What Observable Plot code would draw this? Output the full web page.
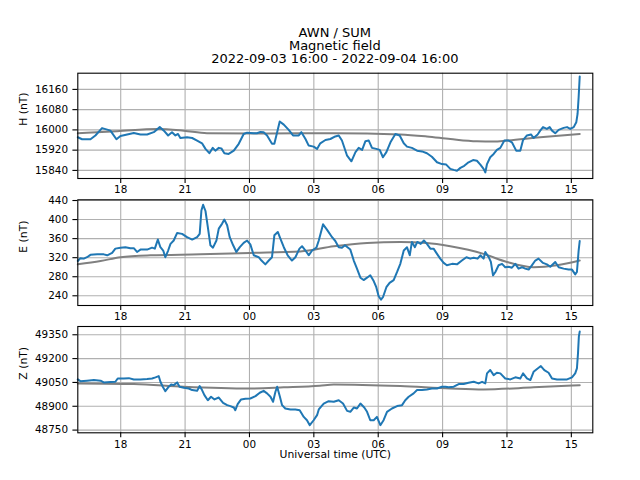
<!DOCTYPE html>
<html>
<head>
<meta charset="utf-8">
<script src="https://cdn.jsdelivr.net/npm/d3@7"></script>
<script src="https://cdn.jsdelivr.net/npm/@observablehq/plot@0.6"></script>
<style>
  body { margin: 0; background: #fff; }
  #fig { position: relative; width: 640px; height: 480px; background: #fff; font-family: "DejaVu Sans", sans-serif; color: #000; overflow: hidden; }
  #title { position: absolute; left: 77.3px; width: 515px; top: 25.8px; text-align: center; font-size: 13px; line-height: 13px; }
</style>
</head>
<body>
<div id="fig"><div id="title"></div></div>
<script>
// ---------------- data ----------------
const titleLines = ["AWN / SUM", "Magnetic field", "2022-09-03 16:00 - 2022-09-04 16:00"];
const xAxisLabel = "Universal time (UTC)";
// hours after 2022-09-03 16:00 UTC
const xTickHours = [2, 5, 8, 11, 14, 17, 20, 23];
const xTickLabels = ["18", "21", "00", "03", "06", "09", "12", "15"];

const hLabel = "H (nT)";
const hTicks = [15840, 15920, 16000, 16080, 16160];
const hHours = [0,0.20,0.59,0.82,1.13,1.37,1.52,1.80,1.99,2.30,2.61,2.92,3.23,3.54,3.82,4.01,4.21,4.39,4.55,4.67,4.78,5.09,5.33,5.56,5.79,5.95,6.13,6.29,6.41,6.57,6.69,6.83,7.03,7.27,7.50,7.73,7.89,8.20,8.35,8.51,8.66,8.82,9.05,9.16,9.29,9.41,9.60,9.83,10.03,10.30,10.42,
  10.61,10.76,10.99,11.15,11.30,11.54,11.77,12.00,12.16,12.31,12.55,12.75,12.94,13.09,13.25,13.40,13.56,13.71,13.91,14.07,14.22,14.38,14.57,14.80,15.00,15.19,15.34,15.57,15.81,16.04,16.27,16.50,16.74,16.97,17.17,17.36,17.52,17.67,17.83,18.01,18.21,18.42,18.60,18.76,18.91,18.99,19.07,19.22,19.38,19.53,19.69,19.88,20.08,20.23,20.43,20.62,20.75,20.93,21.12,21.24,21.43,21.55,21.68,21.86,21.99,22.10,22.25,22.41,22.64,22.80,22.95,23.11,23.23,23.29,23.34,23.39];
const hValues = [15971,15963,15963,15978,16007,16001,15997,15963,15976,15982,15988,15982,15982,15991,16011,15997,15978,15991,15978,15984,15968,15971,15968,15958,15947,15925,15908,15929,15918,15929,15927,15908,15905,15918,15945,15984,15989,15987,15987,15992,15991,15978,15945,15945,15991,16033,16021,16000,15978,15978,15991,
  15964,15938,15934,15925,15947,15960,15964,15974,15978,15958,15898,15876,15912,15929,15921,15955,15958,15929,15925,15921,15892,15912,15951,15984,15978,15947,15934,15929,15918,15915,15908,15894,15872,15865,15863,15846,15842,15839,15850,15858,15872,15881,15878,15863,15846,15832,15865,15892,15905,15921,15929,15958,15958,15951,15918,15918,15960,15978,15982,15968,15982,15997,16011,16004,16011,15997,15987,16000,16008,16011,16004,16011,16030,16063,16129,16211];
const hBaseHours = [0, 1.83, 3.70, 4.94, 6.02, 8.82, 11.93, 15.03, 16.27, 17.36, 18.60, 19.38, 20.00, 21.55, 23.39];
const hBaseValues = [15987, 15995, 16004, 15997, 15987, 15986, 15987, 15982, 15974, 15964, 15955, 15954, 15958, 15971, 15984];

const eLabel = "E (nT)";
const eTicks = [240, 280, 320, 360, 400, 440];
const eHours = [0,0.12,0.28,0.43,0.59,0.90,1.21,1.37,1.60,1.75,1.99,2.22,2.45,2.61,2.76,2.92,3.23,3.46,3.59,3.73,3.85,3.98,4.08,4.21,4.32,4.47,4.63,4.86,5.09,5.33,5.56,5.68,5.76,5.84,5.95,6.06,6.18,6.30,6.46,6.57,6.72,6.83,6.96,7.08,7.24,7.39,7.55,7.73,7.89,8.04,8.20,8.43,8.56,8.74,8.90,9.05,9.16,9.32,9.44,9.60,9.78,9.98,10.14,10.33,10.45,10.61,10.76,10.92,11.12,
  11.23,11.43,11.61,11.85,12.00,12.16,12.31,12.45,12.70,12.86,13.01,13.17,13.32,13.48,13.63,13.79,13.91,14.02,14.13,14.22,14.38,14.53,14.72,14.88,15.03,15.19,15.34,15.47,15.57,15.71,15.82,15.98,16.13,16.27,16.43,16.58,16.74,16.89,17.05,17.20,17.44,17.67,17.90,18.11,18.29,18.45,18.63,18.76,18.91,18.99,19.15,19.25,19.35,19.46,19.61,19.77,19.92,20.08,20.23,20.39,20.54,20.70,20.85,21.01,21.16,21.32,21.47,21.68,21.86,22.02,22.25,22.41,22.64,22.87,23.03,23.18,23.26,23.34,23.39];
const eValues = [313,319,318,321,326,327,327,325,330,339,341,342,340,340,332,337,337,341,339,358,342,335,321,335,349,356,372,370,363,358,363,370,419,431,418,384,346,341,356,381,391,400,388,363,346,332,342,351,356,348,325,321,314,306,314,321,367,374,360,342,325,314,321,339,344,335,325,335,341,
  356,390,379,363,355,342,341,346,337,314,297,278,273,278,283,271,258,239,232,237,258,267,273,290,307,335,342,325,353,342,353,349,356,349,339,339,328,318,309,304,307,306,314,321,318,320,318,325,318,332,321,311,283,290,304,307,300,301,299,307,297,300,297,295,304,314,318,309,306,301,311,300,297,295,295,285,290,335,355];
const eBaseHours = [0, 1.06, 1.99, 3.39, 5.71, 8.01, 10.37, 11.93, 13.48, 15.03, 16.27, 17.36, 18.91, 20.00, 21.24, 22.33, 23.39];
const eBaseValues = [306, 313, 321, 325, 327, 330, 333, 344, 351, 353, 351, 344, 328, 311, 300, 304, 314];

const zLabel = "Z (nT)";
const zTicks = [48750, 48900, 49050, 49200, 49350];
const zHours = [0,0.12,0.43,0.75,1.06,1.21,1.52,1.75,1.86,2.14,2.38,2.61,2.92,3.23,3.46,3.62,3.77,3.85,3.96,4.08,4.24,4.35,4.47,4.63,4.74,4.94,5.17,5.33,5.56,5.68,5.79,5.90,6.06,6.21,6.37,6.57,6.77,6.96,7.11,7.27,7.34,7.45,7.61,7.81,8.04,8.28,8.48,8.66,8.82,8.98,9.10,9.21,9.29,9.41,9.52,9.67,9.91,10.14,10.34,10.53,10.68,10.81,10.99,11.15,
  11.23,11.46,11.69,11.93,12.16,12.36,12.55,12.70,12.86,13.01,13.17,13.35,13.48,13.63,13.79,13.94,14.10,14.25,14.41,14.64,14.88,15.11,15.26,15.42,15.65,15.81,16.04,16.27,16.50,16.74,16.97,17.13,17.28,17.52,17.75,17.98,18.21,18.45,18.68,18.84,18.99,19.07,19.22,19.38,19.53,19.69,19.92,20.16,20.39,20.62,20.75,20.93,21.09,21.24,21.43,21.58,21.74,21.94,22.10,22.33,22.56,22.80,23.03,23.18,23.26,23.31,23.35,23.39];
const zValues = [49069,49058,49061,49065,49061,49050,49052,49054,49075,49075,49077,49069,49069,49071,49075,49082,49090,49054,49023,48995,49023,49037,49033,49050,49023,49016,49012,49002,48997,49027,49002,48970,48938,48960,48943,48955,48922,48907,48901,48892,48875,48913,48943,48947,48949,48964,48985,48997,48981,48960,48928,48991,49023,48964,48907,48886,48880,48880,48875,48833,48812,48781,48812,48844,
  48880,48917,48932,48928,48938,48917,48871,48865,48892,48886,48917,48892,48865,48812,48812,48833,48781,48812,48865,48886,48901,48907,48938,48960,48981,49002,49002,49006,49012,49012,49023,49023,49019,49023,49040,49040,49048,49054,49044,49054,49044,49107,49128,49096,49111,49107,49075,49069,49082,49075,49107,49075,49065,49117,49138,49153,49128,49111,49075,49069,49069,49069,49082,49107,49138,49233,49338,49370];
const zBaseHours = [0, 2.61, 4.94, 8.01, 9.60, 11.27, 11.93, 15.03, 17.36, 18.91, 21.24, 23.39];
const zBaseValues = [49044, 49040, 49023, 49012, 49019, 49029, 49037, 49027, 49012, 49006, 49019, 49033];

// ---------------- drawing ----------------
const tickLabelOf = new Map(xTickHours.map((h, i) => [h, xTickLabels[i]]));
const zip = (xs, ys) => xs.map((x, i) => ({x, y: ys[i]}));

document.getElementById("title").innerHTML = titleLines.map(t => `<div>${t}</div>`).join("");

function panel({top, height, marginTop, marginBottom, yDomain, yTicks, yLabel, hours, values, baseHours, baseValues, withXLabel}) {
  const marks = [
    Plot.ruleX(xTickHours, {x: d => d, stroke: "#b0b0b0", strokeWidth: 1.1}),
    Plot.ruleY(yTicks, {y: d => d, stroke: "#b0b0b0", strokeWidth: 1.1}),
    Plot.line(zip(baseHours, baseValues), {x: "x", y: "y", stroke: "#808080", strokeWidth: 2, curve: "monotone-x"}),
    Plot.line(zip(hours, values), {x: "x", y: "y", stroke: "#1f77b4", strokeWidth: 2, strokeLinejoin: "round"}),
    Plot.frame({stroke: "#000", strokeWidth: 1.1}),
    Plot.axisX({ticks: xTickHours, tickFormat: d => tickLabelOf.get(d), tickSize: 4.9, tickPadding: 2.5, label: null, fontSize: 10.4, strokeWidth: 1.1}),
    Plot.axisY({ticks: yTicks, tickFormat: d => String(d), tickSize: 4.9, tickPadding: 4.9, label: null, fontSize: 10.4, strokeWidth: 1.1}),
    Plot.text([yLabel], {text: d => d, frameAnchor: "left", dx: -54, rotate: -90, fontSize: 10.8, fill: "#000"})
  ];
  if (withXLabel) marks.push(Plot.text([xAxisLabel], {text: d => d, frameAnchor: "bottom", dy: 25.3, fontSize: 10.8, fill: "#000"}));
  const svg = Plot.plot({
    width: 640,
    height,
    marginLeft: 77.3,
    marginRight: 47.7,
    marginTop,
    marginBottom,
    x: {type: "linear", domain: [0, 24]},
    y: {type: "linear", domain: yDomain},
    style: "background:transparent;overflow:visible;font-family:'DejaVu Sans',sans-serif;font-size:10.4px;color:#000;",
    marks
  });
  svg.style.position = "absolute";
  svg.style.left = "0px";
  svg.style.top = top + "px";
  document.getElementById("fig").appendChild(svg);
}

panel({top: 62, height: 136, marginTop: 10.7, marginBottom: 20, yDomain: [15808, 16224], yTicks: hTicks, yLabel: hLabel,
  hours: hHours, values: hValues, baseHours: hBaseHours, baseValues: hBaseValues});
panel({top: 189, height: 136, marginTop: 10.3, marginBottom: 20, yDomain: [219.6, 441.5], yTicks: eTicks, yLabel: eLabel,
  hours: eHours, values: eValues, baseHours: eBaseHours, baseValues: eBaseValues});
panel({top: 316, height: 164, marginTop: 10, marginBottom: 47.7, yDomain: [48733, 49402], yTicks: zTicks, yLabel: zLabel,
  hours: zHours, values: zValues, baseHours: zBaseHours, baseValues: zBaseValues, withXLabel: true});
</script>
</body>
</html>
